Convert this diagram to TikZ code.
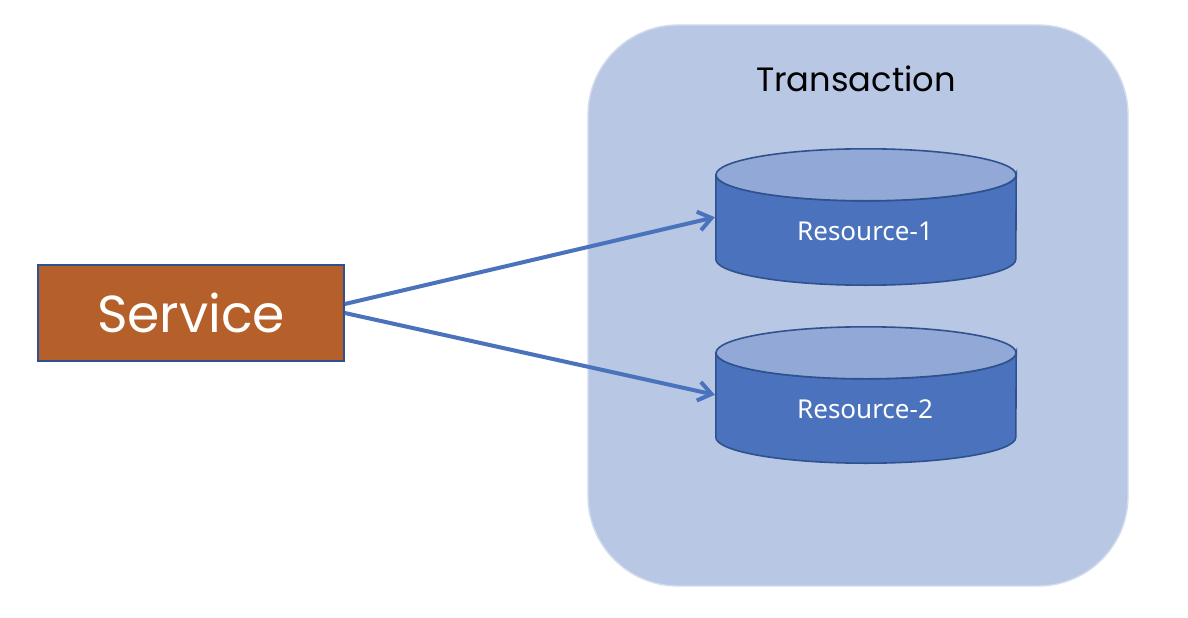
\documentclass[tikz,border=0pt]{standalone}
\usepackage{fontspec}
\setmainfont{Poppins}
\newfontfamily\resfont{Noto Sans}
\usetikzlibrary{arrows.meta,calc}
\definecolor{txbg}{HTML}{B7C7E4}
\definecolor{txedge}{HTML}{D3DCEE}
\definecolor{cylbody}{HTML}{4A72BD}
\definecolor{cyltop}{HTML}{92A9D8}
\definecolor{cyledge}{HTML}{2F528F}
\definecolor{svcfill}{HTML}{B5602A}
\definecolor{arrowblue}{HTML}{4A72BD}
\tikzset{
  x=1pt,y=-1pt,
  txbox/.style={draw=txedge,line width=1.4pt,fill=txbg,rounded corners=90pt,minimum width=540pt,minimum height=561pt,inner sep=0pt},
  svcbox/.style={draw=cyledge,line width=1.6pt,fill=svcfill,text=white,minimum width=306pt,minimum height=96pt,inner sep=0pt,font=\fontsize{52}{55}\selectfont},
  cylframe/.style={minimum width=300pt,minimum height=136pt,inner sep=0pt},
  reslabel/.style={text=white,inner sep=0pt,font=\resfont\fontsize{26}{30}\selectfont},
  txlabel/.style={text=black,inner sep=0pt,font=\fontsize{33.7}{37}\selectfont},
  flow/.style={draw=arrowblue,line width=4pt,-{Straight Barb[length=13pt,width=19pt,line width=4pt]},shorten >=1pt},
  cylside/.style={draw=cyledge,line width=1.6pt,fill=cylbody},
  cylcap/.style={draw=cyledge,line width=1.6pt,fill=cyltop},
}
\newcommand{\cylshape}[1]{%
  \path[cylside] ($(#1.north west)+(0,26)$) -- ($(#1.south west)+(0,-26)$)
     arc[start angle=180,end angle=360,x radius=150pt,y radius=26pt]
     -- ($(#1.north east)+(0,26)$)
     arc[start angle=0,end angle=180,x radius=150pt,y radius=-26pt] -- cycle;
  \path[cylcap] ($(#1.north)+(0,26)$) ellipse[x radius=150pt,y radius=26pt];
}
\begin{document}
\begin{tikzpicture}
\useasboundingbox (0,0) rectangle (1188,618);
\fill[white] (0,0) rectangle (1188,618);
\node[txbox] (tx) at (858,305.5) {};
\node[cylframe] (res1) at (866,217) {};
\node[cylframe] (res2) at (866,395) {};
\cylshape{res1}
\cylshape{res2}
\node[txlabel] (txl) at (856,79) {Transaction};
\node[reslabel] (r1l) at (865,231) {Resource-1};
\node[reslabel] (r2l) at (865,409) {Resource-2};
\node[svcbox] (svc) at (191,313) {\raisebox{-1pt}{Service}};
\coordinate (svcup) at ($(svc.east)+(0,-9)$);
\draw[flow] (svcup) -- (res1.west);
\draw[flow] (svc.east) -- (res2.west);
\end{tikzpicture}
\end{document}
